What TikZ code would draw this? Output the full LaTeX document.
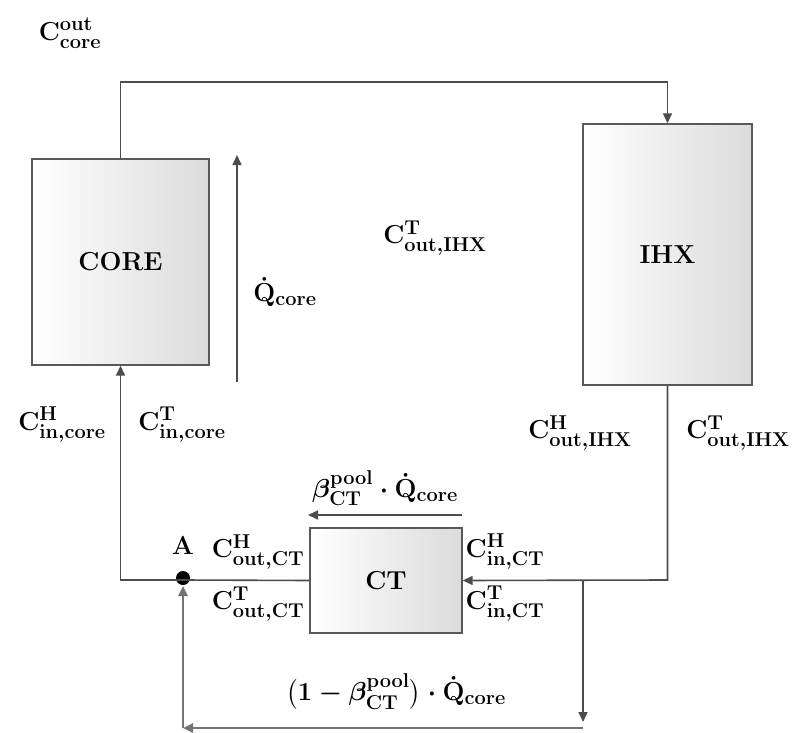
\RequirePackage{fix-cm}
\documentclass[tikz,border=0pt]{standalone}
\usepackage{amsmath}
\DeclareMathSizes{26}{26}{20}{15}
\usetikzlibrary{arrows.meta}
\begin{document}
\begin{tikzpicture}[x=1pt,y=-1pt,
  line/.style={draw=black!70, line width=1.6pt},
  arr/.style={line, -{Triangle[length=10pt,width=9pt]}},
  unit/.style={draw=black!65, line width=1.4pt, left color=white, right color=black!14, inner sep=0pt, font=\fontsize{26}{30}\selectfont\bfseries},
  lab/.style={font=\fontsize{26}{30}\selectfont\boldmath, inner sep=1pt}]
\useasboundingbox (0,0) rectangle (795,733);
\node[unit, minimum width=177pt, minimum height=206pt] (core) at (120.5,262) {CORE};
\node[unit, minimum width=169pt, minimum height=261pt] (ihx) at (667.5,254.5) {IHX};
\node[unit, minimum width=152pt, minimum height=105pt] (ct) at (386,580.5) {CT};
\fill[black] (183,578) circle (7pt);
\coordinate (A) at (183,580);
\coordinate (t1) at (120.5,82);
\coordinate (t2) at (667.5,82);
\coordinate (r1) at (667.5,580);
\coordinate (l1) at (120.5,580);
\coordinate (s1) at (583,580);
\coordinate (s2) at (583,722);
\coordinate (b1) at (583,728);
\coordinate (b2) at (183,728);
\coordinate (b3) at (183,586);
\coordinate (qa) at (237,382);
\coordinate (qb) at (237,155);
\coordinate (ba) at (462,515);
\coordinate (bb) at (308,515);
% loop
\draw[arr] (core.north) -- (t1) -- (t2) -- (ihx.north);
\draw[arr] (ihx.south) -- (r1) -- (ct.east);
\draw[line] (ct.west) -- (A);
\draw[arr] (A) -- (l1) -- (core.south);
\draw[arr] (s1) -- (s2);
\draw[line, line width=2.4pt, draw=black!55, -{Triangle[length=10pt,width=9pt]}] (b1) -- (b2);
\draw[line, line width=2.4pt, draw=black!55, -{Triangle[length=10pt,width=9pt]}] (b2) -- (b3);
\draw[arr] (qa) -- (qb);
\draw[arr] (ba) -- (bb);
% labels
\node[lab] (lcout) at (70,33) {$\mathbf{C}^{\mathbf{out}}_{\mathbf{core}}$};
\node[lab] (lq) at (285,292) {$\dot{\mathbf{Q}}_{\mathbf{core}}$};
\node[lab] (ltihx1) at (435,238) {$\mathbf{C}^{\mathbf{T}}_{\mathbf{out,IHX}}$};
\node[lab] (lhincore) at (62,425) {$\mathbf{C}^{\mathbf{H}}_{\mathbf{in,core}}$};
\node[lab] (ltincore) at (182,425) {$\mathbf{C}^{\mathbf{T}}_{\mathbf{in,core}}$};
\node[lab] (lhihx) at (580,433) {$\mathbf{C}^{\mathbf{H}}_{\mathbf{out,IHX}}$};
\node[lab] (ltihx) at (738,433) {$\mathbf{C}^{\mathbf{T}}_{\mathbf{out,IHX}}$};
\node[lab] (lbeta) at (385,488) {$\beta^{\mathbf{pool}}_{\mathbf{CT}}\cdot\dot{\mathbf{Q}}_{\mathbf{core}}$};
\node[lab] (lA) at (183,546) {$\mathbf{A}$};
\node[lab] (lhoct) at (258,552) {$\mathbf{C}^{\mathbf{H}}_{\mathbf{out,CT}}$};
\node[lab] (ltoct) at (258,604) {$\mathbf{C}^{\mathbf{T}}_{\mathbf{out,CT}}$};
\node[lab] (lhict) at (505,552) {$\mathbf{C}^{\mathbf{H}}_{\mathbf{in,CT}}$};
\node[lab] (ltict) at (505,604) {$\mathbf{C}^{\mathbf{T}}_{\mathbf{in,CT}}$};
\node[lab] (lone) at (396,692) {$\bigl(\mathbf{1}-\beta^{\mathbf{pool}}_{\mathbf{CT}}\bigr)\cdot\dot{\mathbf{Q}}_{\mathbf{core}}$};
\end{tikzpicture}
\end{document}
